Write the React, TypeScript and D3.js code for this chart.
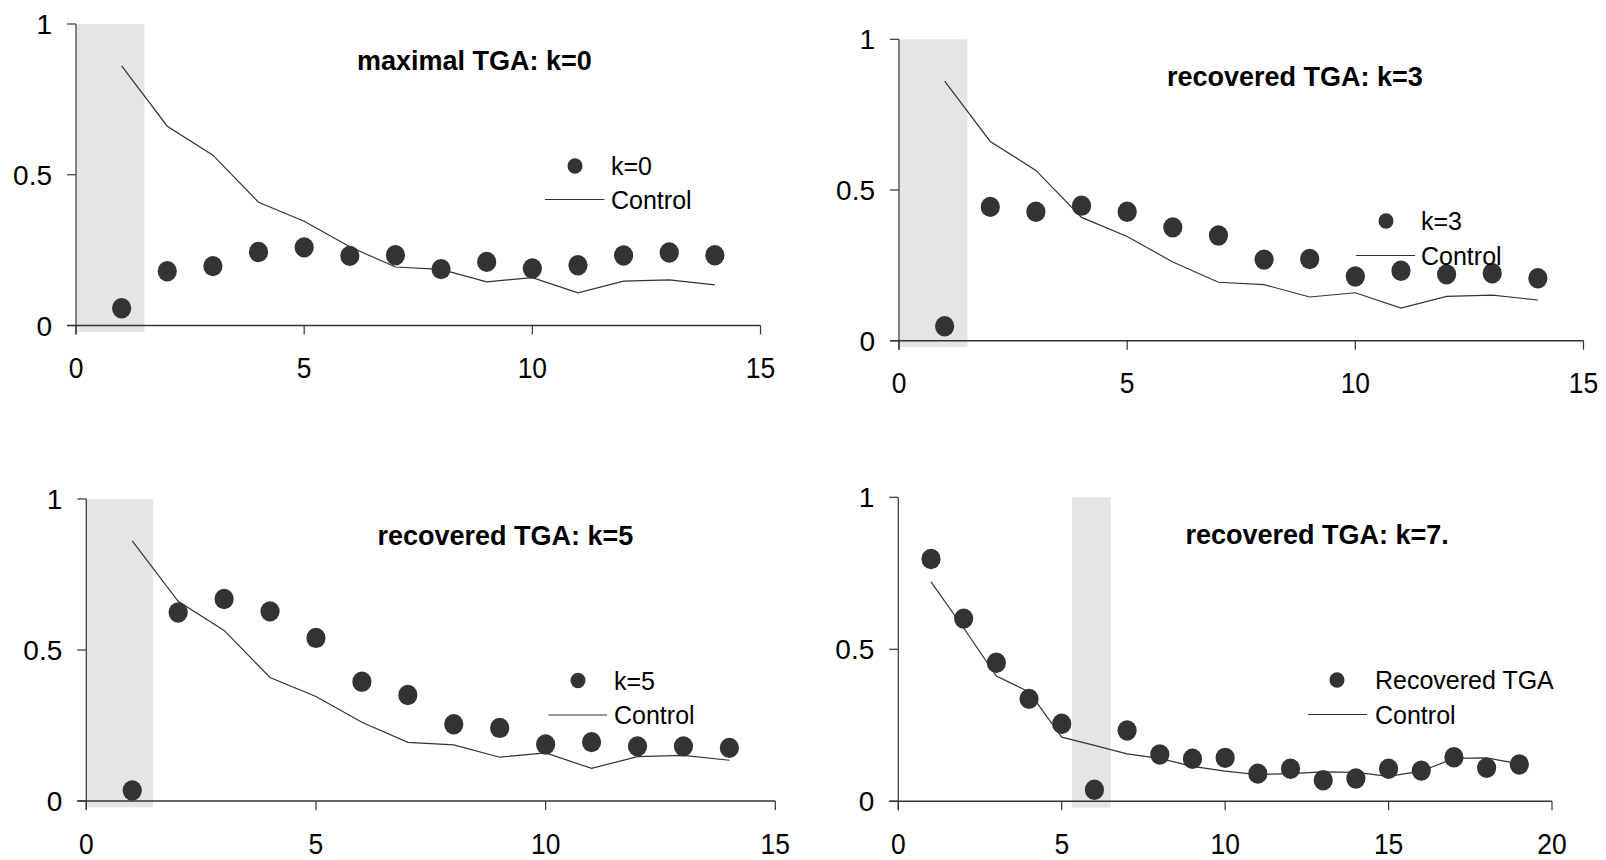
import React from "react";
import * as d3 from "d3";

// ---- data ----
const steps14 = [1, 2, 3, 4, 5, 6, 7, 8, 9, 10, 11, 12, 13, 14];
const steps19 = [1, 2, 3, 4, 5, 6, 7, 8, 9, 10, 11, 12, 13, 14, 15, 16, 17, 18, 19];

const control14 = [0.861, 0.661, 0.565, 0.409, 0.346, 0.261, 0.194, 0.186, 0.145, 0.159, 0.108, 0.147, 0.151, 0.135];
const k0Values = [0.057, 0.18, 0.197, 0.244, 0.259, 0.231, 0.233, 0.187, 0.211, 0.189, 0.2, 0.232, 0.242, 0.233];
const k3Values = [0.048, 0.444, 0.428, 0.448, 0.428, 0.376, 0.349, 0.269, 0.271, 0.213, 0.232, 0.22, 0.224, 0.207];
const k5Values = [0.035, 0.624, 0.669, 0.628, 0.54, 0.395, 0.351, 0.254, 0.242, 0.187, 0.195, 0.181, 0.181, 0.176];
const k7Values = [0.797, 0.601, 0.456, 0.337, 0.255, 0.038, 0.233, 0.154, 0.14, 0.143, 0.091, 0.107, 0.069, 0.075, 0.107, 0.101, 0.145, 0.11, 0.121];
const control19 = [0.722, 0.57, 0.412, 0.36, 0.211, 0.184, 0.156, 0.141, 0.115, 0.099, 0.088, 0.091, 0.097, 0.095, 0.082, 0.099, 0.141, 0.143, 0.123];

const titles = ["maximal TGA: k=0", "recovered TGA: k=3", "recovered TGA: k=5", "recovered TGA: k=7."];
const seriesNames = ["k=0", "k=3", "k=5", "Recovered TGA"];
const controlName = "Control";
const xTicks15 = [0, 5, 10, 15];
const xTicks20 = [0, 5, 10, 15, 20];
const yTicks = [0, 0.5, 1];
const shadeRanges: [number, number][] = [[0, 1.5], [0, 1.5], [0, 1.45], [5.3, 6.5]];

// ---- layout (pixels) ----
const panels = [
  { left: 76, right: 760.5, top: 24, bottom: 325.5, xMax: 15, xTicks: xTicks15, steps: steps14, pts: k0Values, ctrl: control14,
    titleX: 357, titleY: 69.5, legDot: [575, 166], legText: 611, legLine: [545, 604.5, 199.5] },
  { left: 899, right: 1583.5, top: 39.3, bottom: 340.7, xMax: 15, xTicks: xTicks15, steps: steps14, pts: k3Values, ctrl: control14,
    titleX: 1167, titleY: 85.5, legDot: [1386, 221], legText: 1421, legLine: [1356, 1415, 255.5] },
  { left: 86.3, right: 775.3, top: 499, bottom: 801, xMax: 15, xTicks: xTicks15, steps: steps14, pts: k5Values, ctrl: control14,
    titleX: 377.5, titleY: 544.5, legDot: [578, 680.5], legText: 614, legLine: [548.5, 607, 715] },
  { left: 898.3, right: 1552, top: 497.3, bottom: 801.3, xMax: 20, xTicks: xTicks20, steps: steps19, pts: k7Values, ctrl: control19,
    titleX: 1185.5, titleY: 543.5, legDot: [1337, 680], legText: 1375, legLine: [1308, 1367, 714.5] },
];

const FONT = "'Liberation Sans', Arial, Helvetica, sans-serif";
const DOT = "#333333";
const AXIS = "#333333";

function Panel({ p, i }: { p: any; i: number }) {
  const x = d3.scaleLinear().domain([0, p.xMax]).range([p.left, p.right]);
  const y = d3.scaleLinear().domain([0, 1]).range([p.bottom, p.top]);
  const line = d3.line<number>().x((_, j) => x(p.steps[j])).y((d) => y(d));
  const [s0, s1] = shadeRanges[i];
  const tick = 9;
  return (
    <g>
      <rect x={x(s0) + 0.5} y={y(1)} width={x(s1) - x(s0) - 0.5} height={y(-0.021) - y(1)} fill="#e5e5e5" />
      {/* y axis */}
      <line x1={x(0)} x2={x(0)} y1={y(1)} y2={y(0) + tick} stroke={AXIS} strokeWidth={1.2} />
      {yTicks.map((t) => (
        <g key={"y" + t}>
          <line x1={x(0) - tick} x2={x(0)} y1={y(t)} y2={y(t)} stroke={AXIS} strokeWidth={1.2} />
          <text x={x(0) - 24} y={y(t)} dy="0.36em" textAnchor="end" fontSize={28} fontFamily={FONT} fill="#000">
            {d3.format("")(t)}
          </text>
        </g>
      ))}
      {/* x axis */}
      <line x1={x(0) - tick} x2={x(p.xMax)} y1={y(0)} y2={y(0)} stroke={AXIS} strokeWidth={1.4} />
      {p.xTicks.map((t: number) => (
        <g key={"x" + t}>
          <line x1={x(t)} x2={x(t)} y1={y(0)} y2={y(0) + tick} stroke={AXIS} strokeWidth={1.2} />
          <text
            transform={`translate(${x(t)},${y(0) + 52.5}) scale(0.88,1)`}
            textAnchor="middle"
            fontSize={30}
            fontFamily={FONT}
            fill="#000"
          >
            {t}
          </text>
        </g>
      ))}
      <path d={line(p.ctrl) || ""} fill="none" stroke="#333" strokeWidth={1.2} />
      {p.pts.map((v: number, j: number) => (
        <ellipse key={j} cx={x(p.steps[j])} cy={y(v)} rx={9.6} ry={10.2} fill={DOT} />
      ))}
      <text x={p.titleX} y={p.titleY} fontSize={27} fontWeight="bold" fontFamily={FONT} fill="#000">
        {titles[i]}
      </text>
      {/* legend */}
      <ellipse cx={p.legDot[0]} cy={p.legDot[1]} rx={7.5} ry={7.8} fill={DOT} />
      <text x={p.legText} y={p.legDot[1]} dy="0.36em" fontSize={25} fontFamily={FONT} fill="#000">
        {seriesNames[i]}
      </text>
      <line x1={p.legLine[0]} x2={p.legLine[1]} y1={p.legLine[2]} y2={p.legLine[2]} stroke="#333" strokeWidth={1.2} />
      <text x={p.legText} y={p.legLine[2]} dy="0.36em" fontSize={25} fontFamily={FONT} fill="#000">
        {controlName}
      </text>
    </g>
  );
}

export default function App() {
  return (
    <svg width={1606} height={860} style={{ position: "absolute", left: 0, top: 0, background: "#fff" }}>
      <rect x={0} y={0} width={1606} height={860} fill="#fff" />
      {panels.map((p, i) => (
        <Panel key={i} p={p} i={i} />
      ))}
    </svg>
  );
}
